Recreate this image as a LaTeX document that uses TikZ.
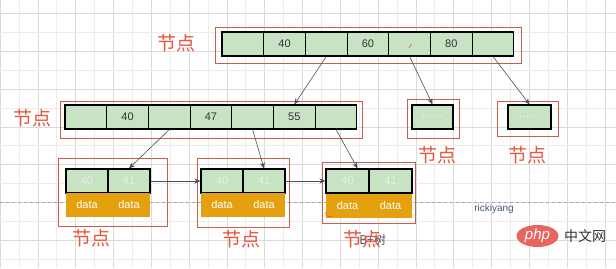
\documentclass[tikz,border=0pt]{standalone}
\usepackage{fontspec}
\setmainfont{Liberation Sans}
\newfontfamily\cjk{Noto Sans CJK SC}
\usetikzlibrary{arrows.meta,calc,shapes.geometric}
\definecolor{cellgreen}{RGB}{200,226,196}
\definecolor{dataorange}{RGB}{229,160,13}
\definecolor{boxred}{RGB}{196,96,76}
\definecolor{labelred}{RGB}{232,86,60}
\definecolor{arrowgray}{RGB}{70,80,100}
\definecolor{gridminor}{RGB}{236,236,236}
\definecolor{gridmajor}{RGB}{218,218,218}
\definecolor{phpred}{RGB}{232,100,95}
\begin{document}
\begin{tikzpicture}[x=1pt,y=-1pt,
  cell/.style={draw=black, line width=1.1pt, fill=cellgreen, minimum width=41.7pt, minimum height=24pt, inner sep=0pt, font=\fontsize{11}{12}\selectfont, text=black!80},
  leafcell/.style={cell, minimum width=42pt, text=white!92!black},
  datacell/.style={draw=none, fill=dataorange, minimum width=42pt, minimum height=24pt, inner sep=0pt, font=\fontsize{11}{12}\selectfont, text=white},
  lbl/.style={font=\cjk\fontsize{19}{20}\selectfont, text=labelred, inner sep=0pt},
  outer/.style={draw=boxred, line width=0.7pt},
  conn/.style={draw=arrowgray, line width=0.6pt, -{Stealth[length=6pt,width=5pt]}},
]
\useasboundingbox (0,0) rectangle (616,268);
\fill[white] (0,0) rectangle (616,268);
% grid
\foreach \k in {0,...,16} {
  \draw[gridminor, line width=0.5pt] ({18.9+37.8*\k},0) -- ({18.9+37.8*\k},268);
  \draw[gridmajor, line width=0.5pt] ({37.8*\k},0) -- ({37.8*\k},268);
}
\foreach \k in {0,...,6} {
  \draw[gridminor, line width=0.5pt] (0,{32.3+37.8*\k}) -- (616,{32.3+37.8*\k});
  \draw[gridmajor, line width=0.5pt] (0,{13.4+37.8*\k}) -- (616,{13.4+37.8*\k});
}
\draw[gray!70, line width=0.6pt, dashed] (0,202.4) -- (616,202.4);

% outer red boxes
\draw[outer] (215,27) rectangle (521,63);
\draw[outer] (60,101) rectangle (362,138);
\draw[outer] (407,99) rectangle (459,138);
\draw[outer] (497,101) rectangle (558,136);
\draw[outer] (58,158) rectangle (167,226);
\draw[outer] (197,158) rectangle (289,227);
\draw[outer] (322,162) rectangle (415,223);

% top node
\foreach \i/\t in {1/,2/40,3/,4/60,5/,6/80,7/} {
  \node[cell] (t\i) at ({222+41.7*(\i-0.5)},44) {\t};
}
\draw[labelred, line width=0.6pt] (409,48) -- (411.5,44);
% middle node
\foreach \i/\t in {1/,2/40,3/,4/47,5/,6/55,7/} {
  \node[cell] (m\i) at ({65+41.7*(\i-0.5)},117) {\t};
}
% small nodes
\node[cell, minimum width=41pt, text=white!90!green] (s1) at (432.5,117) {……};
\node[cell, minimum width=43pt, text=white!90!green] (s2) at (529.5,117) {……};

% leaves
\node[leafcell] (a1) at (87,181) {40};
\node[leafcell] (a2) at (129,181) {41};
\node[datacell] (ad1) at (87,205) {data};
\node[datacell] (ad2) at (129,205) {data};
\node[leafcell] (b1) at (222,181) {40};
\node[leafcell] (b2) at (264,181) {41};
\node[datacell] (bd1) at (222,205) {data};
\node[datacell] (bd2) at (264,205) {data};
\node[leafcell, minimum width=43pt] (c1) at (347.5,181) {40};
\node[leafcell, minimum width=43pt] (c2) at (390.5,181) {41};
\node[datacell, minimum width=43pt] (cd1) at (347.5,205.5) {data};
\node[datacell, minimum width=43pt] (cd2) at (390.5,205.5) {data};
\draw[labelred, line width=0.6pt] (325,212) -- (327,216) -- (332,217);

% labels
\node[lbl] (lt) at (176,43) {节点};
\node[lbl] (lm) at (32,118) {节点};
\node[lbl] (ls1) at (437,155) {节点};
\node[lbl] (ls2) at (527,155) {节点};
\node[lbl] (la) at (91,238) {节点};
\node[lbl] (lb) at (241,239) {节点};
\node[font=\cjk\fontsize{12}{13}\selectfont, text=arrowgray, inner sep=0pt, anchor=east] (bt) at (386,240) {B+树};
\node[lbl] (lc) at (362,239) {节点};

% connectors
\draw[conn] (t3.south) -- (m6.north);
\draw[conn] (t5.south) -- (s1.north);
\draw[conn] (t7.south) -- (s2.north);
\draw[conn] (m3.south) -- (a2.north);
\draw[conn] (m5.south) -- (b2.north);
\draw[conn] (m7.south) -- ($(c1.north east)+(-12,0)$);
\draw[conn] (a2.east) -- (b1.west);
\draw[conn] (b2.east) -- (c1.west);

% watermark texts
\node[font=\fontsize{10}{11}\selectfont, text={rgb,255:red,70;green,90;blue,120}, inner sep=0pt] (rk) at (494,209) {rickiyang};
\node[ellipse, fill=phpred, minimum width=42pt, minimum height=22pt, inner sep=0pt, text=white, font=\itshape\fontsize{15}{15}\selectfont] (php) at (537.5,236) {php};
\node[font=\cjk\fontsize{14}{15}\selectfont, text=black!80, inner sep=0pt] (zw) at (585,236) {中文网};
\end{tikzpicture}
\end{document}
